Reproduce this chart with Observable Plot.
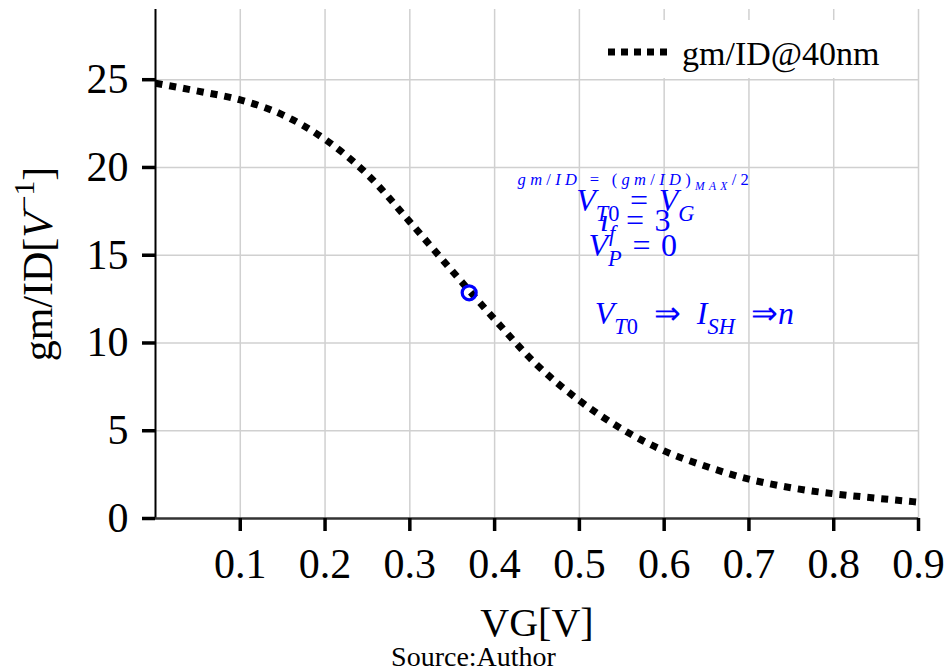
<!DOCTYPE html>
<html>
<head>
<meta charset="utf-8">
<script src="https://cdn.jsdelivr.net/npm/d3@7"></script>
<script src="https://cdn.jsdelivr.net/npm/@observablehq/plot@0.6"></script>
<style>
  body { margin: 0; background: #fff; font-family: "Liberation Serif", "Times New Roman", serif; color: #000; }
  #wrap { position: relative; width: 947px; }
  #legend { position: absolute; left: 590px; top: 20px; width: 326px; height: 58px; background: #fff; }
  #caption { width: 947px; height: 30px; line-height: 30px; text-align: center; font-size: 28px; }
  svg text { white-space: pre; }
</style>
</head>
<body>
<div id="wrap"><div id="legend"></div></div>
<div id="caption"></div>
<script>
// ---- data ----
const VG   = [0, 0.05, 0.1, 0.15, 0.2, 0.25, 0.3, 0.35, 0.4, 0.45, 0.5, 0.55, 0.6, 0.65, 0.7, 0.75, 0.8, 0.85, 0.9];
const GMID = [24.8, 24.35, 23.85, 23.0, 21.6, 19.6, 16.9, 14.1, 11.35, 8.75, 6.72, 5.1, 3.85, 2.96, 2.24, 1.75, 1.41, 1.16, 0.93];
const SERIES_NAME = "gm/ID@40nm";
const OP_VG = [0.37];
const OP_GMID = [12.86];
const X_TICKS = [0.1, 0.2, 0.3, 0.4, 0.5, 0.6, 0.7, 0.8, 0.9];
const Y_TICKS = [0, 5, 10, 15, 20, 25];
const X_LABEL = "VG[V]";
const Y_LABEL = "gm/ID[*V*^{−1}]";
const CAPTION = "Source:Author";
const ANN_SMALL_TEXT = ["*gm*/*ID* = (*gm*/*ID*)_{*MAX*}/2"];
const ANN_SMALL_X = [0.566];
const ANN_SMALL_Y = [19.32];
const ANN_TEXT = ["*V*_{*T*0}\u2004=\u2004*V*_{*G*}", "*ı*_{*f*}\u2004=\u20043", "*V*_{*P*}\u2004=\u20040"];
const ANN_X = [0.566, 0.566, 0.563];
const ANN_Y = [18.10, 16.96, 15.53];
const ANN2_TEXT = ["*V*_{*T*0}\u2002⇒\u2002*I*_{*SH*}\u2002⇒*n*"];
const ANN2_X = [0.518];
const ANN2_Y = [11.66];

const curve = VG.map((v, i) => ({vg: v, gmid: GMID[i]}));
const op = OP_VG.map((v, i) => ({vg: v, gmid: OP_GMID[i]}));
const annSmall = ANN_SMALL_TEXT.map((t, i) => ({t, x: ANN_SMALL_X[i], y: ANN_SMALL_Y[i]}));
const ann = ANN_TEXT.map((t, i) => ({t, x: ANN_X[i], y: ANN_Y[i]}));
const ann2 = ANN2_TEXT.map((t, i) => ({t, x: ANN2_X[i], y: ANN2_Y[i]}));

const FONT = "Liberation Serif, Times New Roman, serif";
const GRID = "#d0d0d0";

const plot = Plot.plot({
  width: 947,
  height: 642,
  marginTop: 9,
  marginLeft: 155,
  marginRight: 29,
  marginBottom: 124,
  x: {domain: [0, 0.9]},
  y: {domain: [0, 29]},
  style: {fontFamily: FONT, background: "#fff", color: "#000", overflow: "visible"},
  marks: [
    Plot.gridX(X_TICKS, {stroke: GRID, strokeOpacity: 1, strokeWidth: 1.5}),
    Plot.gridY(Y_TICKS.filter(d => d > 0), {stroke: GRID, strokeOpacity: 1, strokeWidth: 1.5}),
    Plot.ruleX([0], {stroke: "#000", strokeWidth: 2}),
    Plot.ruleY([0], {stroke: "#333", strokeWidth: 2.5}),
    Plot.axisX(X_TICKS, {tickSize: 13, tickPadding: 17, fontSize: 42, strokeWidth: 3.5, label: null, tickFormat: d => d.toFixed(1)}),
    Plot.axisY(Y_TICKS, {tickSize: 13, tickPadding: 14, fontSize: 42, strokeWidth: 3.5, label: null}),
    Plot.line(curve, {x: "vg", y: "gmid", curve: "monotone-x", stroke: "#000", strokeWidth: 7, strokeDasharray: "7 7", strokeLinecap: "butt"}),
    Plot.dot(op, {x: "vg", y: "gmid", r: 7, stroke: "blue", strokeWidth: 3.2, fill: "none"}),
    Plot.text(annSmall, {x: "x", y: "y", text: "t", fill: "blue", fontSize: 16.5, textAnchor: "middle", lineAnchor: "middle"}),
    Plot.text(ann, {x: "x", y: "y", text: "t", fill: "blue", fontSize: 32, textAnchor: "middle", lineAnchor: "middle"}),
    Plot.text(ann2, {x: "x", y: "y", text: "t", fill: "blue", fontSize: 32, textAnchor: "start", lineAnchor: "middle"}),
    Plot.text([X_LABEL], {text: d => d, frameAnchor: "bottom", dy: 105, fontSize: 40, textAnchor: "middle", lineAnchor: "middle", fill: "#000"}),
    Plot.text([Y_LABEL], {text: d => d, frameAnchor: "left", rotate: -90, dx: -117, fontSize: 42, textAnchor: "middle", lineAnchor: "middle", fill: "#000"})
  ]
});

document.getElementById("wrap").insertBefore(plot, document.getElementById("legend"));

// rich text: *italic*, _{sub}, ^{sup}
function rich(textEl, src, base) {
  const tokens = [];
  let italic = false, shift = 0, buf = "";
  const push = () => { if (buf) { tokens.push({t: buf, italic, shift}); buf = ""; } };
  for (let i = 0; i < src.length; i++) {
    const c = src[i];
    if (c === "*") { push(); italic = !italic; continue; }
    if ((c === "_" || c === "^") && src[i + 1] === "{") { push(); shift = c === "_" ? 1 : -1; i++; continue; }
    if (c === "}" && shift !== 0) { push(); shift = 0; continue; }
    buf += c;
  }
  push();
  while (textEl.firstChild) textEl.removeChild(textEl.firstChild);
  let cur = 0;
  for (const tk of tokens) {
    const target = tk.shift === 1 ? 0.3 * base : tk.shift === -1 ? -0.42 * base : 0;
    const ts = document.createElementNS("http://www.w3.org/2000/svg", "tspan");
    if (target !== cur) ts.setAttribute("dy", target - cur);
    cur = target;
    ts.setAttribute("font-size", tk.shift ? 0.7 * base : base);
    ts.setAttribute("font-style", tk.italic ? "italic" : "normal");
    ts.textContent = tk.t;
    textEl.appendChild(ts);
  }
}
const RICH = new Set([...ANN_SMALL_TEXT, ...ANN_TEXT, ...ANN2_TEXT, Y_LABEL]);
Array.from(plot.querySelectorAll("text")).forEach(el => {
  const src = el.textContent;
  if (!RICH.has(src)) return;
  const base = parseFloat(getComputedStyle(el).fontSize);
  rich(el, src, base);
  if (ANN_SMALL_TEXT.includes(src)) el.setAttribute("letter-spacing", "4.3px");
});

// legend
const lg = d3.select("#legend").append("svg").attr("width", 326).attr("height", 58);
lg.append("line").attr("x1", 18).attr("x2", 78).attr("y1", 32).attr("y2", 32)
  .attr("stroke", "#000").attr("stroke-width", 7).attr("stroke-dasharray", "7 6");
lg.append("text").attr("x", 92).attr("y", 44.5).attr("font-size", 34)
  .attr("font-family", FONT).attr("fill", "#000").text(SERIES_NAME);

document.getElementById("caption").textContent = CAPTION;
</script>
</body>
</html>
